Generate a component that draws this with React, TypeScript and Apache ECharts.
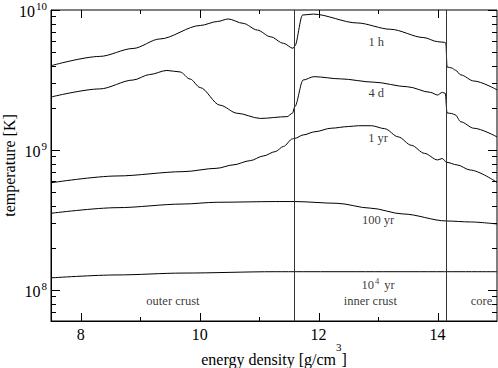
import React, { useEffect, useRef } from 'react';
import * as echarts from 'echarts';

// axis ranges
const xMin = 7.5;
const xMax = 15;
const yMin = 6e7;
const yMax = 1e10;

// tick values
const xMajorTicks = [8, 10, 12, 14];
const xMinorTicks = [9, 11, 13];
const yMajorTicks = [1e8, 1e9, 1e10];
const yMinorTicks = [
  7e7, 8e7, 9e7,
  2e8, 3e8, 4e8, 5e8, 6e8, 7e8, 8e8, 9e8,
  2e9, 3e9, 4e9, 5e9, 6e9, 7e9, 8e9, 9e9,
];

// crust/core boundaries (log10 energy density)
const boundaries = [11.59, 14.15];

// curves: energy density (log10 g/cm^3) vs temperature (K)
const x1h = [7.5, 8.32, 8.88, 9.33, 10.01, 10.3, 10.48, 10.73, 10.97, 11.19, 11.41, 11.57, 11.6, 11.73, 11.91, 12.65, 13.21, 13.77, 14.0, 14.12, 14.14, 14.16, 14.24, 14.3, 14.39, 14.61, 15.0];
const t1h = [4.0e9, 4.66e9, 5.31e9, 6.21e9, 7.75e9, 8.28e9, 8.63e9, 8.03e9, 7.19e9, 6.44e9, 5.78e9, 5.32e9, 5.53e9, 9.2e9, 9.35e9, 8.08e9, 7.28e9, 6.35e9, 5.94e9, 5.87e9, 5.81e9, 3.92e9, 3.85e9, 3.72e9, 3.44e9, 3.11e9, 2.69e9];

const x4d = [7.5, 8.32, 8.88, 9.16, 9.45, 9.67, 9.84, 10.01, 10.34, 10.63, 11.02, 11.47, 11.56, 11.6, 11.74, 11.92, 12.37, 12.93, 13.49, 13.88, 14.0, 14.08, 14.13, 14.16, 14.24, 14.3, 14.39, 14.61, 15.0];
const t4d = [2.39e9, 2.73e9, 3.16e9, 3.46e9, 3.7e9, 3.61e9, 3.21e9, 2.79e9, 2.09e9, 1.83e9, 1.68e9, 1.73e9, 1.83e9, 2.04e9, 3.16e9, 3.34e9, 3.22e9, 3.05e9, 2.83e9, 2.58e9, 2.47e9, 2.58e9, 2.54e9, 1.84e9, 1.82e9, 1.78e9, 1.59e9, 1.43e9, 1.24e9];

const x1yr = [7.5, 8.61, 9.72, 10.29, 10.56, 10.85, 11.07, 11.27, 11.41, 11.56, 11.6, 11.74, 11.94, 12.21, 12.5, 12.67, 12.89, 13.11, 13.34, 13.56, 13.78, 14.0, 14.08, 14.15, 14.33, 14.55, 15.0];
const t1yr = [5.83e8, 6.52e8, 7.0e8, 7.4e8, 7.82e8, 8.39e8, 9.06e8, 9.73e8, 1.06e9, 1.2e9, 1.21e9, 1.28e9, 1.35e9, 1.43e9, 1.47e9, 1.49e9, 1.49e9, 1.42e9, 1.24e9, 1.08e9, 9.46e8, 8.49e8, 8.69e8, 8.17e8, 7.82e8, 7.19e8, 5.87e8];

const x100yr = [7.5, 8.61, 9.72, 10.29, 11.27, 11.6, 12.31, 12.87, 13.42, 14.15, 14.55, 15.0];
const t100yr = [3.53e8, 3.87e8, 4.11e8, 4.23e8, 4.28e8, 4.28e8, 4.16e8, 3.84e8, 3.49e8, 3.11e8, 3.06e8, 2.96e8];

const x1e4yr = [7.5, 8.61, 9.72, 11.27, 15.0];
const t1e4yr = [1.22e8, 1.28e8, 1.32e8, 1.35e8, 1.35e8];

// annotation texts and anchor positions (data coordinates)
const noteTexts = ['1 h', '4 d', '1 yr', '100 yr', '{n|10}{s|4}{n| yr}', 'outer crust', 'inner crust', 'core'];
const noteX = [12.97, 12.97, 13.0, 13.0, 13.0, 9.55, 12.87, 14.74];
const noteY = [5.9e9, 2.55e9, 1.22e9, 3.16e8, 1.1e8, 8.4e7, 8.4e7, 8.4e7];

const FONT = 'Liberation Serif';

function pair(xs: number[], ys: number[]) {
  return xs.map((x, i) => [x, ys[i]]);
}

export default function App() {
  const ref = useRef<HTMLDivElement>(null);
  useEffect(() => {
    if (!ref.current) return;
    const chart = echarts.init(ref.current, undefined, { renderer: 'svg' });

    const tickData: number[][] = [];
    yMajorTicks.forEach((v) => tickData.push([xMin, v, 0]));
    yMinorTicks.forEach((v) => tickData.push([xMin, v, 1]));
    xMajorTicks.forEach((v) => tickData.push([v, yMin, 2]));
    xMinorTicks.forEach((v) => tickData.push([v, yMin, 3]));

    const lineSeries = (data: number[][]) => ({
      type: 'line',
      data,
      showSymbol: false,
      symbol: 'none',
      smooth: 0.3,
      smoothMonotone: 'x',
      lineStyle: { color: '#000', width: 1 },
      silent: true,
      z: 3,
    });

    const option: any = {
      animation: false,
      textStyle: { fontFamily: FONT },
      grid: {
        left: 51,
        right: 1,
        top: 10,
        bottom: 47,
        containLabel: false,
        outerBoundsMode: 'none',
        show: true,
        borderColor: '#000',
        borderWidth: 1,
        backgroundColor: 'transparent',
      },
      xAxis: {
        type: 'value',
        min: xMin,
        max: xMax,
        interval: 0.5,
        axisLine: { show: true, lineStyle: { color: '#000', width: 1 } },
        axisTick: { show: false },
        splitLine: { show: false },
        axisLabel: {
          interval: 0,
          margin: 5,
          color: '#000',
          fontSize: 16,
          fontFamily: FONT,
          formatter: (v: number) => (xMajorTicks.indexOf(v) >= 0 ? String(v) : ''),
        },
        name: '{b|energy density [g/cm}{s|3}{b|]}',
        nameLocation: 'middle',
        nameGap: 20,
        nameMoveOverlap: false,
        nameTextStyle: {
          fontFamily: FONT,
          color: '#000',
          rich: {
            b: { fontSize: 16, fontFamily: FONT, color: '#000', lineHeight: 26, verticalAlign: 'bottom' },
            s: { fontSize: 11, fontFamily: FONT, color: '#000', lineHeight: 11, verticalAlign: 'top' },
          },
        },
      },
      yAxis: {
        type: 'log',
        logBase: 10,
        min: yMin,
        max: yMax,
        axisLine: { show: true, lineStyle: { color: '#000', width: 1 } },
        axisTick: { show: false },
        splitLine: { show: false },
        minorTick: { show: false },
        axisLabel: {
          margin: 4,
          color: '#000',
          formatter: (v: number) => {
            const l = Math.log10(v);
            const e = Math.round(l);
            if (Math.abs(l - e) > 1e-6) return '';
            return `{b|10}{s|${e}}`;
          },
          rich: {
            b: { fontSize: 16, fontFamily: FONT, color: '#000', lineHeight: 19, verticalAlign: 'bottom' },
            s: { fontSize: 11, fontFamily: FONT, color: '#000', lineHeight: 11, verticalAlign: 'top', padding: [0, 0, 0, 1] },
          },
        },
        name: 'temperature [K]',
        nameLocation: 'middle',
        nameGap: 34,
        nameMoveOverlap: false,
        nameTextStyle: { fontFamily: FONT, fontSize: 16, color: '#000' },
      },
      series: [
        lineSeries(pair(x1h, t1h)),
        lineSeries(pair(x4d, t4d)),
        lineSeries(pair(x1yr, t1yr)),
        lineSeries(pair(x100yr, t100yr)),
        {
          ...lineSeries(pair(x1e4yr, t1e4yr)),
          markLine: {
            silent: true,
            symbol: ['none', 'none'],
            label: { show: false },
            lineStyle: { color: '#333', type: 'solid', width: 1 },
            data: boundaries.map((b) => ({ xAxis: b })),
          },
        },
        {
          type: 'scatter',
          symbolSize: 0,
          silent: true,
          data: noteTexts.map((t, i) => ({ name: t, value: [noteX[i], noteY[i]] })),
          label: {
            show: true,
            position: 'inside',
            formatter: (p: any) => p.name,
            color: '#000',
            fontSize: 12.5,
            fontFamily: FONT,
            rich: {
              n: { fontSize: 12.5, fontFamily: FONT, color: '#000', lineHeight: 15, verticalAlign: 'bottom' },
              s: { fontSize: 8.5, fontFamily: FONT, color: '#000', lineHeight: 9, verticalAlign: 'top', padding: [0, 2, 0, 1] },
            },
          },
          z: 5,
        },
        {
          type: 'custom',
          silent: true,
          clip: false,
          data: tickData,
          encode: { x: 0, y: 1 },
          renderItem: (params: any, api: any) => {
            const kind = api.value(2);
            const style = { stroke: '#000', lineWidth: 1 };
            if (kind === 0 || kind === 1) {
              const v = api.value(1);
              const pl = api.coord([xMin, v]);
              const pr = api.coord([xMax, v]);
              const len = kind === 0 ? 9 : 5;
              const y = Math.round(pl[1]) + 0.5;
              return {
                type: 'group',
                children: [
                  { type: 'line', shape: { x1: pl[0], y1: y, x2: pl[0] + len, y2: y }, style },
                  { type: 'line', shape: { x1: pr[0] - len, y1: y, x2: pr[0], y2: y }, style },
                ],
              };
            }
            const v = api.value(0);
            const pb = api.coord([v, yMin]);
            const pt = api.coord([v, yMax]);
            const len = kind === 2 ? 8 : 4;
            const x = Math.round(pb[0]) + 0.5;
            return {
              type: 'group',
              children: [
                { type: 'line', shape: { x1: x, y1: pb[1], x2: x, y2: pb[1] - len }, style },
                { type: 'line', shape: { x1: x, y1: pt[1], x2: x, y2: pt[1] + len }, style },
              ],
            };
          },
          z: 4,
        },
      ],
    };

    chart.setOption(option);
    return () => chart.dispose();
  }, []);

  return (
    <div
      ref={ref}
      style={{ position: 'absolute', left: 0, top: 0, width: 498, height: 368, background: '#fff' }}
    />
  );
}
